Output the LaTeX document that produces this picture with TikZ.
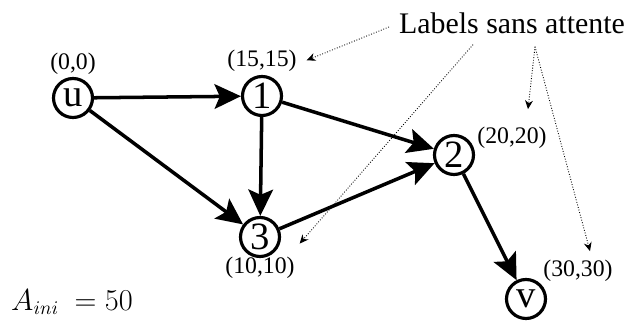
\documentclass[tikz,border=0pt]{standalone}
\usepackage{fontspec}
\setmainfont{Liberation Serif}
\usetikzlibrary{arrows.meta,positioning,calc}
\tikzset{
  vertex/.style={
    circle, draw=black, line width=1.8pt, minimum size=0.78cm,
    inner sep=0pt, font=\fontsize{22}{22}\selectfont
  },
  attr/.style={inner sep=1pt, font=\fontsize{13.5}{14}\selectfont},
  edge/.style={-{Stealth[length=15pt,width=14pt,inset=3pt]}, line width=2pt},
  note/.style={-{Stealth[length=5pt,width=4.5pt]}, densely dotted, line width=0.5pt}
}
\begin{document}
\begin{tikzpicture}[x=0.02cm, y=-0.02cm]
  \useasboundingbox (0,0) rectangle (626,324);

  % Graph vertices
  \node[vertex] (u)  at (73,98)   {u};
  \node[vertex] (n1) at (262,96)  {1};
  \node[vertex] (n2) at (454,155) {2};
  \node[vertex] (n3) at (260,237) {3};
  \node[vertex] (v)  at (526,299) {v};

  % Labels (A,T)
  \node[attr, above=0pt of u]   (cu) {(0,0)};
  \node[attr, above=1pt of n1]  (c1) {(15,15)};
  \node[attr, below=-2pt of n3] (c3) {(10,10)};
  \node[attr] (c2) at (512,138) {(20,20)};
  \node[attr] (c4) at (578,271) {(30,30)};

  \node[font=\fontsize{17}{17}\selectfont] (lab) at (512,23) {Labels sans attente};
  \node[font=\fontsize{16}{16}\selectfont] (aini) at (72,302) {$A_{ini}\ = 50$};

  % Arcs
  \draw[edge] (u)  -- (n1);
  \draw[edge] (u)  -- (n3);
  \draw[edge] (n1) -- (n3);
  \draw[edge] (n1) -- (n2);
  \draw[edge] (n3) -- (n2);
  \draw[edge] (n2) -- (v);

  % Annotation arrows
  \coordinate (s1) at ($(lab.west)+(-4,4)$);
  \coordinate (s2) at ($(lab.south)+(-39,5)$);
  \coordinate (fork) at ($(lab.south)+(23,7)$);
  \draw[note] (s1) -- ($(c1.east)+(8,0)$);
  \draw[note] (s2) -- ($(c3.north east)+(3,-11)$);
  \draw[note] (fork) -- ($(c2.north)+(16,-16)$);
  \draw[note] (fork) -- ($(c4.north)+(12,-7)$);
\end{tikzpicture}
\end{document}
